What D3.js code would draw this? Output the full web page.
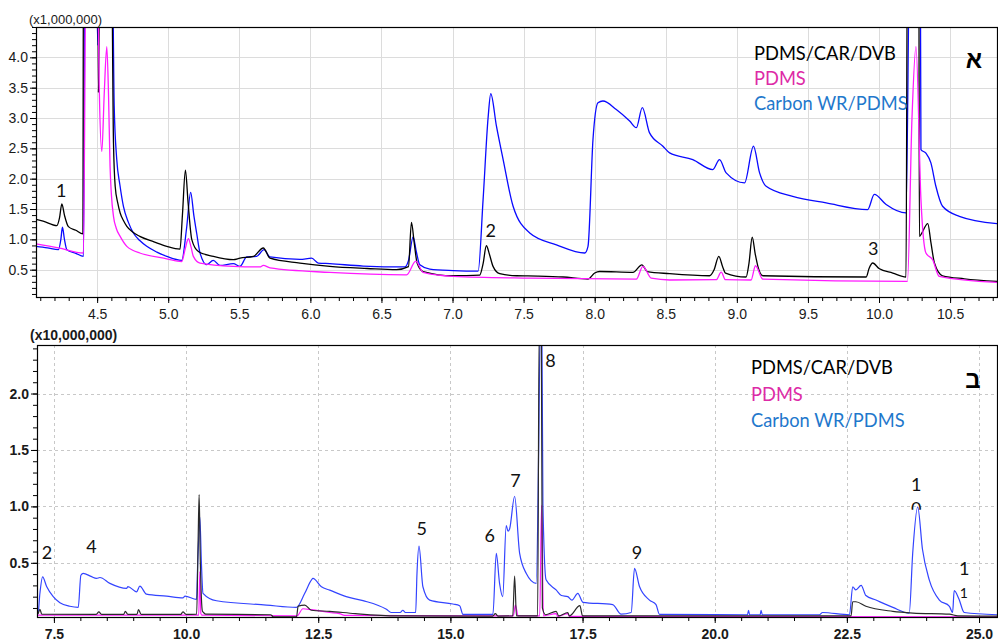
<!DOCTYPE html>
<html>
<head>
<meta charset="utf-8">
<script src="https://cdn.jsdelivr.net/npm/d3@7"></script>
<style>
  html, body { margin: 0; padding: 0; background: #fff; }
  svg { display: block; }
</style>
</head>
<body>
<svg id="chart" width="998" height="643"></svg>
<script>
// ---- Series names ----
const seriesNames = ["PDMS/CAR/DVB", "PDMS", "Carbon WR/PDMS"];

// ---- Panel A (retention time in min, intensity x1,000,000) ----
const topBlack = [[4.07,1.33],[4.12,1.30],[4.217,1.226],[4.235,1.35],[4.252,1.584],[4.27,1.40],[4.298,1.21],[4.35,1.15],[4.40,1.09],[4.404,6],[4.505,6],[4.509,3.42],[4.52,6],[4.60,6],[4.615,2.6],[4.627,1.875],[4.645,1.6],[4.662,1.435],[4.685,1.31],[4.709,1.215],[4.75,1.12],[4.80,1.05],[4.90,0.96],[4.99,0.885],[5.083,0.84],[5.10,1.4],[5.121,2.14],[5.14,1.6],[5.166,0.995],[5.212,0.80],[5.318,0.72],[5.458,0.665],[5.505,0.69],[5.60,0.72],[5.669,0.858],[5.716,0.69],[5.927,0.61],[6.137,0.555],[6.4,0.52],[6.606,0.50],[6.69,0.55],[6.711,1.28],[6.73,0.95],[6.751,0.61],[6.793,0.47],[7.004,0.40],[7.191,0.41],[7.215,0.6],[7.238,0.895],[7.26,0.75],[7.285,0.555],[7.332,0.435],[7.45,0.40],[7.6,0.395],[7.777,0.38],[7.953,0.345],[8.0,0.445],[8.035,0.47],[8.269,0.455],[8.332,0.58],[8.37,0.47],[8.527,0.435],[8.808,0.40],[8.84,0.5],[8.873,0.72],[8.90,0.55],[8.92,0.445],[9.065,0.38],[9.085,0.6],[9.108,1.035],[9.13,0.75],[9.148,0.555],[9.183,0.40],[9.91,0.38],[9.93,0.52],[9.956,0.61],[10.0,0.52],[10.097,0.445],[10.19,0.38],[10.2,6],[10.28,6],[10.284,1.05],[10.30,1.10],[10.343,1.26],[10.365,0.95],[10.39,0.61],[10.447,0.40],[10.6,0.35],[10.83,0.307]];

const topPink = [[4.07,0.925],[4.228,0.86],[4.404,0.775],[4.423,6],[4.50,6],[4.515,3.5],[4.533,2.45],[4.55,3.4],[4.568,4.175],[4.58,3.4],[4.591,2.20],[4.60,1.75],[4.615,1.38],[4.635,1.18],[4.662,1.05],[4.709,0.885],[4.75,0.82],[4.80,0.775],[4.99,0.68],[5.095,0.635],[5.12,0.85],[5.142,1.01],[5.16,0.88],[5.177,0.72],[5.224,0.61],[5.458,0.555],[5.645,0.545],[5.669,0.57],[5.716,0.53],[6.137,0.455],[6.677,0.415],[6.742,0.64],[6.793,0.455],[7.004,0.39],[7.543,0.36],[8.293,0.345],[8.339,0.555],[8.398,0.36],[8.527,0.33],[8.855,0.335],[8.89,0.46],[8.92,0.335],[9.10,0.33],[9.131,0.565],[9.183,0.345],[10.2,0.307],[10.232,3.0],[10.26,4.175],[10.295,1.655],[10.33,0.775],[10.377,0.665],[10.424,0.39],[10.83,0.29]];

const topBlue = [[4.07,0.885],[4.15,0.86],[4.228,0.83],[4.245,1.0],[4.256,1.20],[4.27,1.0],[4.287,0.83],[4.35,0.77],[4.404,0.72],[4.416,6],[4.49,6],[4.505,4.2],[4.52,6],[4.605,6],[4.62,3.2],[4.638,2.315],[4.66,1.9],[4.685,1.545],[4.72,1.28],[4.755,1.105],[4.80,0.98],[4.849,0.885],[4.92,0.79],[4.99,0.72],[5.095,0.655],[5.13,1.2],[5.158,1.775],[5.18,1.4],[5.2,1.105],[5.224,0.775],[5.271,0.583],[5.317,0.655],[5.364,0.57],[5.458,0.60],[5.505,0.555],[5.552,0.71],[5.622,0.72],[5.674,0.83],[5.716,0.71],[5.927,0.67],[6.009,0.69],[6.056,0.61],[6.137,0.60],[6.371,0.56],[6.664,0.545],[6.69,0.65],[6.723,1.04],[6.745,0.8],[6.77,0.58],[6.84,0.51],[7.004,0.485],[7.18,0.475],[7.215,1.655],[7.25,3.0],[7.269,3.40],[7.309,2.865],[7.356,2.315],[7.426,1.545],[7.543,1.105],[7.731,0.91],[7.93,0.775],[7.953,0.885],[7.988,2.645],[8.023,3.25],[8.058,3.28],[8.152,3.14],[8.246,2.95],[8.293,2.84],[8.335,3.17],[8.386,2.755],[8.48,2.535],[8.527,2.425],[8.69,2.315],[8.831,2.15],[8.878,2.315],[8.925,2.095],[9.054,1.93],[9.117,2.535],[9.16,2.095],[9.206,1.875],[9.393,1.71],[9.628,1.60],[9.92,1.49],[9.967,1.74],[10.05,1.575],[10.19,1.435],[10.218,6],[10.29,6],[10.295,2.48],[10.33,2.42],[10.365,2.26],[10.40,1.875],[10.447,1.545],[10.565,1.38],[10.83,1.26]];

// ---- Panel B (retention time in min, intensity x10,000,000) ----
const botBlue = [[7.18,0.05],[7.2,0.052],[7.235,0.23],[7.286,0.376],[7.362,0.29],[7.487,0.20],[7.613,0.146],[7.8,0.115],[7.96,0.105],[8.01,0.39],[8.054,0.406],[8.2,0.38],[8.307,0.362],[8.37,0.37],[8.559,0.318],[8.874,0.273],[8.90,0.29],[9.063,0.243],[9.126,0.294],[9.25,0.223],[9.63,0.205],[9.944,0.19],[9.98,0.205],[10.198,0.176],[10.22,0.5],[10.245,0.79],[10.26,0.907],[10.29,0.5],[10.32,0.23],[10.576,0.164],[11.52,0.126],[12.088,0.105],[12.245,0.23],[12.37,0.347],[12.40,0.362],[12.56,0.288],[12.717,0.258],[13.03,0.20],[13.347,0.165],[13.79,0.088],[13.88,0.06],[14.05,0.06],[14.1,0.08],[14.15,0.06],[14.343,0.06],[14.368,0.406],[14.406,0.648],[14.48,0.288],[14.608,0.17],[15.048,0.135],[15.175,0.12],[15.237,0.044],[15.804,0.044],[15.868,0.583],[15.93,0.318],[15.99,0.20],[16.056,0.83],[16.09,0.78],[16.12,0.80],[16.215,1.09],[16.31,0.583],[16.436,0.406],[16.625,0.318],[16.67,1.5],[16.7,2.6],[16.73,2.6],[16.75,1.025],[16.81,0.35],[17.0,0.26],[17.1,0.21],[17.22,0.20],[17.3,0.17],[17.41,0.23],[17.507,0.15],[18.07,0.13],[18.23,0.045],[18.42,0.06],[18.483,0.45],[18.577,0.29],[18.766,0.17],[18.89,0.13],[18.955,0.044],[20.62,0.04],[20.64,0.08],[20.66,0.04],[20.86,0.04],[20.877,0.08],[20.9,0.04],[21.98,0.04],[22.04,0.06],[22.55,0.04],[22.61,0.288],[22.67,0.26],[22.77,0.30],[22.86,0.21],[23.05,0.17],[23.37,0.105],[23.68,0.055],[23.745,0.583],[23.84,0.995],[23.93,0.62],[24.06,0.347],[24.25,0.17],[24.44,0.115],[24.5,0.06],[24.53,0.253],[24.62,0.18],[24.72,0.06],[25.34,0.04]];

const botPink = [[7.18,0.037],[10.24,0.037],[10.26,0.42],[10.28,0.05],[10.3,0.037],[12.1,0.03],[12.21,0.093],[12.37,0.085],[12.717,0.06],[12.9,0.05],[13.0,0.035],[16.19,0.03],[16.23,0.126],[16.28,0.03],[16.69,0.03],[16.725,1.01],[16.76,0.03],[17.0,0.05],[17.03,0.025],[17.22,0.05],[17.25,0.025],[25.34,0.022]];

const botBlack = [[7.18,0.045],[7.2,0.05],[7.235,0.088],[7.27,0.045],[8.3,0.043],[8.35,0.065],[8.4,0.043],[8.82,0.043],[8.85,0.07],[8.9,0.043],[9.07,0.043],[9.1,0.085],[9.15,0.043],[9.9,0.043],[9.94,0.065],[10.0,0.043],[10.2,0.045],[10.228,0.7],[10.247,1.105],[10.27,0.5],[10.31,0.07],[10.33,0.06],[10.37,0.045],[11.6,0.04],[11.65,0.022],[12.09,0.022],[12.12,0.117],[12.245,0.125],[12.37,0.08],[12.717,0.07],[13.2,0.05],[14.0,0.03],[15.8,0.028],[15.85,0.05],[15.9,0.028],[16.18,0.03],[16.215,0.382],[16.25,0.03],[16.65,0.03],[16.68,2.6],[16.72,2.6],[16.74,0.1],[16.8,0.04],[17.0,0.07],[17.05,0.03],[17.22,0.06],[17.25,0.03],[17.45,0.12],[17.5,0.03],[22.58,0.03],[22.61,0.155],[22.67,0.155],[22.86,0.115],[23.37,0.07],[23.75,0.055],[24.44,0.045],[24.6,0.03],[25.34,0.028]];

// ---- Axis ticks ----
const topXTicks = [4.5, 5.0, 5.5, 6.0, 6.5, 7.0, 7.5, 8.0, 8.5, 9.0, 9.5, 10.0, 10.5];
const topYTicks = [0.5, 1.0, 1.5, 2.0, 2.5, 3.0, 3.5, 4.0];
const botXTicks = [7.5, 10.0, 12.5, 15.0, 17.5, 20.0, 22.5, 25.0];
const botYTicks = [0.5, 1.0, 1.5, 2.0];

// ---- Peak numbers [time, intensity, text] ----
const topPeakLabels = [[4.247, 1.705, "1"], [7.269, 1.045, "2"], [9.96, 0.75, "3"]];
const botPeakLabels = [[7.368, 0.533, "2"], [8.209, 0.586, "4"], [14.457, 0.745, "5"], [15.742, 0.686, "6"],
  [16.233, 1.173, "7"], [16.895, 2.235, "8"], [18.53, 0.533, "9"], [23.814, 1.137, "1"], [24.72, 0.391, "1"]];

const svg = d3.select("#chart");

function range(a, b, step) {
  const out = [];
  for (let v = a; v <= b + 1e-9; v += step) out.push(+v.toFixed(3));
  return out;
}

function drawPanel(cfg) {
  const g = svg.append("g");
  const x = d3.scaleLinear().domain(cfg.xDomain).range([cfg.left, cfg.right]);
  const y = d3.scaleLinear().domain(cfg.yDomain).range([cfg.bottom, cfg.top]);

  const clipId = "clip-" + cfg.id;
  svg.append("clipPath").attr("id", clipId).append("rect")
    .attr("x", cfg.left).attr("y", cfg.top)
    .attr("width", cfg.right - cfg.left).attr("height", cfg.bottom - cfg.top);

  // grid
  const grid = g.append("g").attr("stroke", cfg.gridColor).attr("stroke-width", 1)
    .attr("stroke-dasharray", cfg.gridDash || null);
  grid.selectAll("line.v").data(cfg.xTicks).join("line").attr("class", "v")
    .attr("x1", d => Math.round(x(d)) + 0.5).attr("x2", d => Math.round(x(d)) + 0.5)
    .attr("y1", cfg.top).attr("y2", cfg.bottom);
  grid.selectAll("line.h").data(cfg.yTicks).join("line").attr("class", "h")
    .attr("y1", d => Math.round(y(d)) + 0.5).attr("y2", d => Math.round(y(d)) + 0.5)
    .attr("x1", cfg.left).attr("x2", cfg.right);

  // traces
  const line = d3.line().curve(d3.curveMonotoneX).x(d => x(d[0])).y(d => y(d[1]));
  const traces = g.append("g").attr("clip-path", `url(#${clipId})`);
  cfg.series.forEach(s => {
    traces.append("path").datum(s.data)
      .attr("fill", "none").attr("stroke", s.color)
      .attr("stroke-width", cfg.lineWidth).attr("stroke-linejoin", "round")
      .attr("d", line);
  });

  // frame
  g.append("rect").attr("x", cfg.left + 0.5).attr("y", cfg.top + 0.5)
    .attr("width", cfg.right - cfg.left).attr("height", cfg.bottom - cfg.top)
    .attr("fill", "none").attr("stroke", "#000").attr("stroke-width", 1.2);

  // minor ticks
  g.append("g").attr("transform", `translate(0,${cfg.bottom})`)
    .call(d3.axisBottom(x).tickValues(cfg.xMinor).tickSize(4).tickFormat(""))
    .call(a => a.select(".domain").remove());
  g.append("g").attr("transform", `translate(${cfg.left},0)`)
    .call(d3.axisLeft(y).tickValues(cfg.yMinor).tickSize(4).tickFormat(""))
    .call(a => a.select(".domain").remove());

  // major ticks + labels
  const ax = g.append("g").attr("transform", `translate(0,${cfg.bottom})`)
    .call(d3.axisBottom(x).tickValues(cfg.xTicks).tickSize(6).tickPadding(6).tickFormat(d3.format(".1f")));
  ax.select(".domain").remove();
  const ay = g.append("g").attr("transform", `translate(${cfg.left},0)`)
    .call(d3.axisLeft(y).tickValues(cfg.yTicks).tickSize(6).tickPadding(2).tickFormat(d3.format(".1f")));
  ay.select(".domain").remove();
  [ax, ay].forEach(a => a.selectAll("text")
    .attr("font-family", cfg.tickFont).attr("font-size", cfg.tickSize)
    .attr("font-weight", cfg.tickWeight).attr("fill", "#1a1a1a"));
  g.selectAll(".tick line").attr("stroke", "#000");

  // multiplier
  g.append("text").attr("x", cfg.multX).attr("y", cfg.multY)
    .attr("font-family", cfg.tickFont).attr("font-size", cfg.multSize).attr("font-weight", cfg.tickWeight)
    .attr("fill", "#1a1a1a").text(cfg.multText);

  // legend
  const legend = g.append("g").attr("font-family", "Lato, 'Open Sans', sans-serif").attr("font-size", cfg.legendSize);
  cfg.series.slice().sort((a, b) => a.order - b.order).forEach((s, i) => {
    legend.append("text").attr("x", cfg.legendX).attr("y", cfg.legendY + i * cfg.legendStep)
      .attr("fill", s.textColor).text(s.name);
  });

  // panel letter
  g.append("text").attr("x", cfg.letterX).attr("y", cfg.letterY)
    .attr("font-family", "'Liberation Sans', 'DejaVu Sans', sans-serif").attr("font-weight", "bold")
    .attr("font-size", 24).attr("text-anchor", "middle").attr("direction", "rtl").text(cfg.letter);

  // peak numbers
  g.append("g").attr("font-family", "Lato, 'Open Sans', sans-serif").attr("font-size", cfg.peakSize)
    .attr("text-anchor", "middle").attr("fill", "#111")
    .selectAll("text").data(cfg.peaks).join("text")
    .attr("x", d => x(d[0])).attr("y", d => y(d[1])).text(d => d[2]);

  return { g, x, y };
}

const pA = drawPanel({
  id: "a", left: 36, right: 997, top: 27, bottom: 297,
  xDomain: [4.07, 10.83], yDomain: [0.05, 4.5],
  xTicks: topXTicks, yTicks: topYTicks,
  xMinor: range(4.1, 10.8, 0.1), yMinor: range(0.1, 4.5, 0.1),
  gridColor: "#dcdcdc", gridDash: null, lineWidth: 1.3,
  tickFont: "'Liberation Sans', Arial, sans-serif", tickSize: 14, tickWeight: "normal",
  multText: "(x1,000,000)", multX: 29, multY: 24, multSize: 13,
  legendX: 754, legendY: 60, legendStep: 25, legendSize: 18.3,
  letter: "א", letterX: 974, letterY: 68,
  peaks: topPeakLabels, peakSize: 18,
  series: [
    { name: seriesNames[2], data: topBlue, color: "#0a0aff", textColor: "#1f78cc", order: 2 },
    { name: seriesNames[0], data: topBlack, color: "#000000", textColor: "#000000", order: 0 },
    { name: seriesNames[1], data: topPink, color: "#ff1aff", textColor: "#dd2aa6", order: 1 }
  ]
});

const pB = drawPanel({
  id: "b", left: 37, right: 997, top: 345, bottom: 617,
  xDomain: [7.18, 25.34], yDomain: [0.02, 2.43],
  xTicks: botXTicks, yTicks: botYTicks,
  xMinor: range(7.5, 25.0, 0.5), yMinor: range(0.1, 2.4, 0.1),
  gridColor: "#c8c8c8", gridDash: "3,3", lineWidth: 1.2,
  tickFont: "'Liberation Sans', Arial, sans-serif", tickSize: 14, tickWeight: "bold",
  multText: "(x10,000,000)", multX: 30, multY: 340, multSize: 14,
  legendX: 751, legendY: 374, legendStep: 26.5, legendSize: 18.3,
  letter: "ב", letterX: 973, letterY: 388,
  peaks: botPeakLabels, peakSize: 18,
  series: [
    { name: seriesNames[2], data: botBlue, color: "#3344ff", textColor: "#1f78cc", order: 2 },
    { name: seriesNames[1], data: botPink, color: "#ff1aff", textColor: "#dd2aa6", order: 1 },
    { name: seriesNames[0], data: botBlack, color: "#2a2a2a", textColor: "#000000", order: 0 }
  ]
});

// label "10" on the peak at 23.8 min: the second digit is cut off at its base
svg.append("clipPath").attr("id", "clip-ten").append("rect")
  .attr("x", pB.x(23.6)).attr("y", pB.y(1.08)).attr("width", 30).attr("height", pB.y(0.97) - pB.y(1.08));
svg.append("text").attr("x", pB.x(23.814)).attr("y", pB.y(0.922))
  .attr("font-family", "Lato, 'Open Sans', sans-serif").attr("font-size", 18)
  .attr("text-anchor", "middle").attr("fill", "#111").attr("clip-path", "url(#clip-ten)").text("0");
// second digit of the "11" label on the peak at 24.5 min
svg.append("text").attr("x", pB.x(24.71)).attr("y", pB.y(0.188))
  .attr("font-family", "Lato, 'Open Sans', sans-serif").attr("font-size", 14)
  .attr("text-anchor", "middle").attr("fill", "#111").text("1");
</script>
</body>
</html>
